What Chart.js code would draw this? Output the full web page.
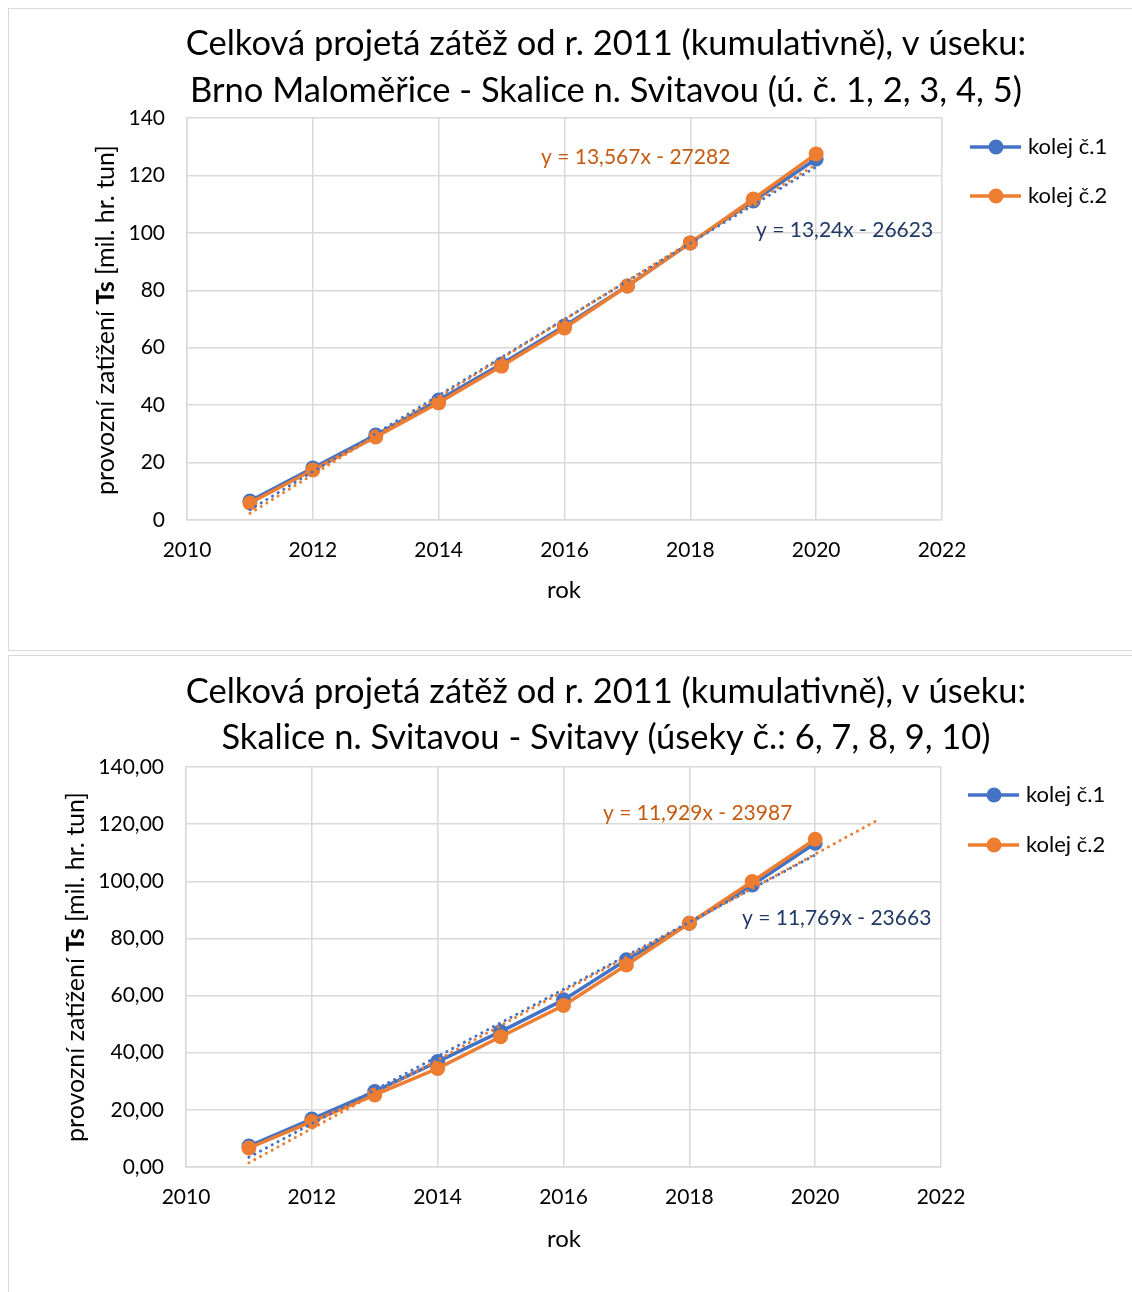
<!DOCTYPE html>
<html lang="cs">
<head>
<meta charset="utf-8">
<script src="https://cdn.jsdelivr.net/npm/chart.js@4.4.1/dist/chart.umd.min.js"></script>
<style>
  html, body { margin: 0; padding: 0; background: #fff; overflow: hidden; }
  body { width: 1132px; height: 1292px; position: relative; }
  .frame { position: absolute; left: 8px; width: 1200px; border: 1px solid #d9d9d9; box-sizing: border-box; }
  #frame-top { top: 8px; height: 643px; }
  #frame-bottom { top: 655px; height: 700px; }
  canvas { position: absolute; left: 0; }
  #chart-top { top: 0; }
  #chart-bottom { top: 652px; }
</style>
</head>
<body>
<div class="frame" id="frame-top"></div>
<div class="frame" id="frame-bottom"></div>
<canvas id="chart-top" width="1132" height="652"></canvas>
<canvas id="chart-bottom" width="1132" height="640"></canvas>
<script>
// data (mil. hr. tun, cumulative)
const years = [2011, 2012, 2013, 2014, 2015, 2016, 2017, 2018, 2019, 2020];
const seriesNames = ['kolej č.1', 'kolej č.2'];

const topKolej1 = [6.6, 18.1, 29.6, 41.8, 54.3, 67.6, 81.5, 96.5, 111.1, 125.7];
const topKolej2 = [5.9, 17.4, 28.9, 40.8, 53.6, 66.9, 81.5, 96.5, 111.8, 127.5];
const bottomKolej1 = [7.35, 16.8, 26.4, 36.9, 47.4, 58.5, 72.5, 85.3, 98.7, 113.3];
const bottomKolej2 = [6.65, 15.9, 25.2, 34.5, 45.6, 56.5, 70.7, 85.3, 99.9, 114.7];

const topTitle = ['Celková projetá zátěž od r. 2011 (kumulativně), v úseku:',
                  'Brno Maloměřice - Skalice n. Svitavou (ú. č. 1, 2, 3, 4, 5)'];
const bottomTitle = ['Celková projetá zátěž od r. 2011 (kumulativně), v úseku:',
                     'Skalice n. Svitavou - Svitavy (úseky č.: 6, 7, 8, 9, 10)'];
const topEquations = ['y = 13,24x - 26623', 'y = 13,567x - 27282'];
const bottomEquations = ['y = 11,769x - 23663', 'y = 11,929x - 23987'];
// trendline forward forecast (years) per series
const topForecast = [0, 0];
const bottomForecast = [0, 1];

const xTitle = 'rok';
const yTitleParts = ['provozní zatížení ', 'Ts', ' [mil. hr. tun]'];
const xMin = 2010, xMax = 2022, xStep = 2;
const yMin = 0, yMax = 140, yStep = 20;

const BLUE = '#4472c4';
const ORANGE = '#ed7d31';
const FONT = 'Lato, "Liberation Sans", sans-serif';

const linReg = (xs, ys) => {
  const n = xs.length;
  const mx = xs.reduce((a, b) => a + b, 0) / n;
  const my = ys.reduce((a, b) => a + b, 0) / n;
  let sxy = 0, sxx = 0;
  xs.forEach((x, i) => { sxy += (x - mx) * (ys[i] - my); sxx += (x - mx) * (x - mx); });
  const slope = sxy / sxx;
  return { slope, icpt: my - slope * mx };
};

const trendData = (ys, forward) => {
  const { slope, icpt } = linReg(years, ys);
  const x0 = years[0], x1 = years[years.length - 1] + forward;
  return [{ x: x0, y: icpt + slope * x0 }, { x: x1, y: icpt + slope * x1 }];
};

const toPoints = (ys) => years.map((x, i) => ({ x, y: ys[i] }));

const decorPlugin = {
  id: 'decor',
  afterDraw(chart, args, o) {
    const ctx = chart.ctx;
    ctx.save();
    ctx.fillStyle = '#000';

    // title
    ctx.font = `34.5px ${FONT}`;
    ctx.textAlign = 'center';
    ctx.textBaseline = 'alphabetic';
    o.title.forEach((line, i) => ctx.fillText(line, o.titleX, o.titleY[i]));

    // x axis title
    ctx.font = `24px ${FONT}`;
    ctx.fillText(xTitle, o.xTitleX, o.xTitleY);

    // y axis title, "Ts" in bold
    const fonts = [`25px ${FONT}`, `bold 25px ${FONT}`, `25px ${FONT}`];
    const widths = yTitleParts.map((t, i) => { ctx.font = fonts[i]; return ctx.measureText(t).width; });
    const total = widths.reduce((a, b) => a + b, 0);
    ctx.translate(o.yTitleX, o.yTitleY);
    ctx.rotate(-Math.PI / 2);
    ctx.textAlign = 'left';
    let pos = -total / 2;
    yTitleParts.forEach((t, i) => { ctx.font = fonts[i]; ctx.fillText(t, pos, 0); pos += widths[i]; });
    ctx.setTransform(1, 0, 0, 1, 0, 0);

    // trendline equations
    ctx.font = `21px ${FONT}`;
    ctx.textBaseline = 'middle';
    ctx.textAlign = 'left';
    o.equations.forEach((eq, i) => {
      ctx.fillStyle = o.eqColors[i];
      ctx.fillText(eq, o.eqPos[i][0], o.eqPos[i][1]);
    });

    // legend
    [BLUE, ORANGE].forEach((c, i) => {
      const y = o.legendY[i];
      ctx.strokeStyle = c;
      ctx.lineWidth = 3.5;
      ctx.beginPath();
      ctx.moveTo(o.legendX, y);
      ctx.lineTo(o.legendX + 51, y);
      ctx.stroke();
      ctx.fillStyle = c;
      ctx.beginPath();
      ctx.arc(o.legendX + 26, y, 7.5, 0, Math.PI * 2);
      ctx.fill();
      ctx.fillStyle = '#000';
      ctx.font = `22px ${FONT}`;
      ctx.fillText(seriesNames[i], o.legendX + 58, y);
    });
    ctx.restore();
  }
};

const makeChart = (id, s1, s2, forecast, yFmt, layout, decor) => {
  const ctx = document.getElementById(id).getContext('2d');
  return new Chart(ctx, {
    type: 'line',
    data: {
      datasets: [
        { label: 'trend ' + seriesNames[1], data: trendData(s2, forecast[1]), borderColor: ORANGE,
          borderWidth: 3, borderDash: [0.1, 6.5], borderCapStyle: 'round', pointRadius: 0, order: 0 },
        { label: 'trend ' + seriesNames[0], data: trendData(s1, forecast[0]), borderColor: BLUE,
          borderWidth: 3, borderDash: [0.1, 6.5], borderCapStyle: 'round', pointRadius: 0, order: 1 },
        { label: seriesNames[1], data: toPoints(s2), borderColor: ORANGE, backgroundColor: ORANGE,
          borderWidth: 3.5, pointRadius: 7.5, pointBorderWidth: 0, order: 2 },
        { label: seriesNames[0], data: toPoints(s1), borderColor: BLUE, backgroundColor: BLUE,
          borderWidth: 3.5, pointRadius: 7.5, pointBorderWidth: 0, order: 3 },
      ],
    },
    options: {
      responsive: false,
      animation: false,
      layout: { padding: { left: 0, top: layout.top, right: layout.right, bottom: 0 } },
      plugins: { legend: { display: false }, tooltip: { enabled: false }, decor },
      scales: {
        x: {
          type: 'linear', min: xMin, max: xMax,
          afterFit: (scale) => { scale.height = layout.xHeight; },
          grid: { color: '#d9d9d9', lineWidth: 1.5, drawTicks: false },
          border: { color: '#d9d9d9', width: 1.5 },
          ticks: { stepSize: xStep, padding: 18, color: '#000', font: { family: FONT, size: 21 },
                   callback: (v) => String(v) },
        },
        y: {
          min: yMin, max: yMax,
          afterFit: (scale) => { scale.width = layout.yWidth; },
          grid: { color: '#d9d9d9', lineWidth: 1.5, drawTicks: false },
          border: { color: '#d9d9d9', width: 1.5 },
          ticks: { stepSize: yStep, padding: 22, color: '#000', font: { family: FONT, size: 21 },
                   callback: yFmt },
        },
      },
    },
    plugins: [decorPlugin],
  });
};

makeChart('chart-top', topKolej1, topKolej2, topForecast, (v) => String(v),
  { top: 118, right: 190, yWidth: 187, xHeight: 132 },
  { title: topTitle, titleX: 606, titleY: [55, 102],
    xTitleX: 564, xTitleY: 598, yTitleX: 114, yTitleY: 320,
    equations: topEquations, eqColors: ['#203864', '#c55a11'], eqPos: [[756, 230], [541, 157]],
    legendX: 970, legendY: [147, 196] });

makeChart('chart-bottom', bottomKolej1, bottomKolej2, bottomForecast,
  (v) => v.toFixed(2).replace('.', ','),
  { top: 115, right: 191, yWidth: 186, xHeight: 125 },
  { title: bottomTitle, titleX: 606, titleY: [51, 97],
    xTitleX: 564, xTitleY: 595, yTitleX: 84, yTitleY: 315,
    equations: bottomEquations, eqColors: ['#203864', '#c55a11'], eqPos: [[742, 266], [603, 161]],
    legendX: 968, legendY: [143, 193] });
</script>
</body>
</html>
